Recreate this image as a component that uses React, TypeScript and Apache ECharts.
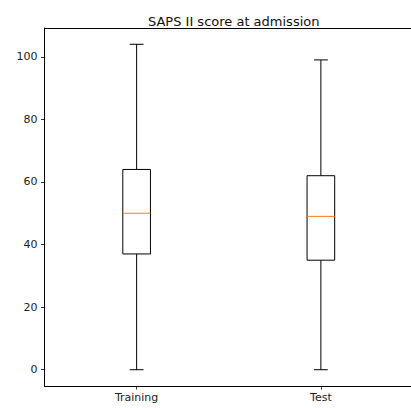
import React, { useEffect, useRef } from "react";
import * as echarts from "echarts";

const categories = ["Training", "Test"];
// [whiskerLow, q1, median, q3, whiskerHigh]
const boxValues = [
  [0, 37, 50, 64, 104],
  [0, 35, 49, 62, 99],
];
const yTicks = [0, 20, 40, 60, 80, 100];
const titleText = "SAPS II score at admission";

export default function App() {
  const ref = useRef<HTMLDivElement>(null);
  useEffect(() => {
    if (!ref.current) return;
    const chart = echarts.init(ref.current, null, { renderer: "svg" });
    const font = "DejaVu Sans";
    const data = boxValues.map((v, i) => [i + 1, ...v]);
    const spine = { show: true, onZero: false, lineStyle: { color: "#000", width: 1 } };
    chart.setOption({
      animation: false,
      backgroundColor: "#fff",
      title: {
        text: titleText,
        left: 228.7,
        textAlign: "center",
        top: 10,
        textStyle: { fontFamily: font, fontSize: 13, fontWeight: "normal", color: "#111" },
      },
      grid: {
        left: 44.5,
        top: 28,
        width: 368.5,
        height: 358,
        show: false,
        containLabel: false,
        outerBoundsMode: "none",
      },
      xAxis: [
        {
          type: "value",
          position: "bottom",
          min: 0.5,
          max: 2.5,
          splitLine: { show: false },
          axisLine: spine,
          axisTick: { show: true, customValues: [1, 2], length: 3.5, lineStyle: { color: "#000", width: 0.8 } },
          axisLabel: {
            customValues: [1, 2],
            margin: 6,
            fontFamily: font,
            fontSize: 11,
            color: "#222",
            formatter: (v: number) => categories[Math.round(v) - 1] ?? "",
          },
        },
        {
          type: "value",
          position: "top",
          min: 0.5,
          max: 2.5,
          splitLine: { show: false },
          axisLine: spine,
          axisTick: { show: false },
          axisLabel: { show: false },
        },
      ],
      yAxis: {
        type: "value",
        position: "left",
        min: -5.2,
        max: 109.2,
        splitLine: { show: false },
        axisLine: spine,
        axisTick: { show: true, customValues: yTicks, length: 3.5, lineStyle: { color: "#000", width: 0.8 } },
        axisLabel: {
          customValues: yTicks,
          margin: 7,
          fontFamily: font,
          fontSize: 11,
          color: "#222",
        },
      },
      series: [
        {
          type: "custom",
          xAxisIndex: 0,
          yAxisIndex: 0,
          clip: false,
          data,
          renderItem: (params: any, api: any) => {
            const x = api.value(0);
            const lo = api.value(1);
            const q1 = api.value(2);
            const med = api.value(3);
            const q3 = api.value(4);
            const hi = api.value(5);
            const half = 0.075;
            const capHalf = 0.0375;
            const pLo = api.coord([x, lo]);
            const pHi = api.coord([x, hi]);
            const pQ1L = api.coord([x - half, q1]);
            const pQ3R = api.coord([x + half, q3]);
            const pMedL = api.coord([x - half, med]);
            const pMedR = api.coord([x + half, med]);
            const pQ1 = api.coord([x, q1]);
            const pQ3 = api.coord([x, q3]);
            const cLoL = api.coord([x - capHalf, lo]);
            const cLoR = api.coord([x + capHalf, lo]);
            const cHiL = api.coord([x - capHalf, hi]);
            const cHiR = api.coord([x + capHalf, hi]);
            const ls = { stroke: "#000", lineWidth: 1, fill: "none" };
            return {
              type: "group",
              children: [
                { type: "polyline", shape: { points: [pQ1, pLo] }, style: ls },
                { type: "polyline", shape: { points: [pQ3, pHi] }, style: ls },
                { type: "polyline", shape: { points: [cLoL, cLoR] }, style: ls },
                { type: "polyline", shape: { points: [cHiL, cHiR] }, style: ls },
                {
                  type: "rect",
                  shape: {
                    x: pQ1L[0],
                    y: pQ3R[1],
                    width: pQ3R[0] - pQ1L[0],
                    height: pQ1L[1] - pQ3R[1],
                  },
                  style: { stroke: "#000", lineWidth: 1, fill: "none" },
                },
                {
                  type: "polyline",
                  shape: { points: [pMedL, pMedR] },
                  style: { stroke: "#ff7f0e", lineWidth: 1, fill: "none" },
                },
              ],
            };
          },
        },
      ],
    });
    return () => chart.dispose();
  }, []);
  return (
    <div
      ref={ref}
      style={{ position: "fixed", left: 0, top: 0, width: 420, height: 408 }}
    />
  );
}
